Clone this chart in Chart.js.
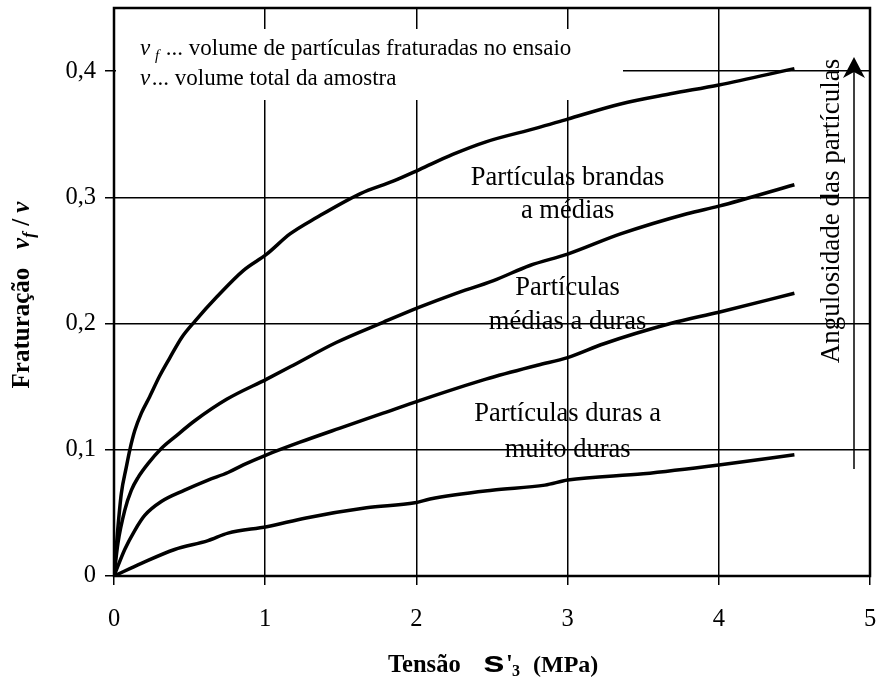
<!DOCTYPE html>
<html><head><meta charset="utf-8">
<script src="https://cdn.jsdelivr.net/npm/chart.js@4.4.0/dist/chart.umd.min.js"></script>
<style>html,body{margin:0;padding:0;background:#fff}canvas{display:block}</style>
</head><body>
<canvas id="c" width="876" height="680"></canvas>
<script>
// ---- data ----
const xTicks = [0, 1, 2, 3, 4, 5];
const yTicks = [0, 0.1, 0.2, 0.3, 0.4];

const curve1X = [0,0.022,0.048,0.081,0.104,0.137,0.181,0.236,0.30,0.37,0.448,0.536,0.679,0.855,1.01,1.164,1.34,1.63,1.85,2.02,2.24,2.46,2.80,3.0,3.35,3.68,4.0,4.5];
const curve1Y = [0,0.033,0.065,0.086,0.0996,0.115,0.129,0.142,0.158,0.173,0.189,0.202,0.221,0.242,0.255,0.271,0.284,0.303,0.313,0.322,0.334,0.344,0.355,0.362,0.374,0.382,0.389,0.402];

const curve2X = [0,0.026,0.071,0.115,0.159,0.225,0.313,0.401,0.534,0.745,1.01,1.186,1.47,1.78,2.02,2.24,2.51,2.75,3.0,3.35,3.79,4.0,4.5];
const curve2Y = [0,0.026,0.052,0.068,0.078,0.089,0.101,0.110,0.123,0.140,0.156,0.167,0.185,0.201,0.213,0.223,0.234,0.246,0.255,0.271,0.287,0.293,0.310];

const curve3X = [0,0.071,0.137,0.203,0.313,0.467,0.622,0.754,0.855,1.01,1.23,1.49,1.78,2.02,2.46,2.80,3.0,3.24,3.68,4.0,4.5];
const curve3Y = [0,0.021,0.036,0.048,0.059,0.068,0.076,0.082,0.088,0.096,0.106,0.117,0.129,0.139,0.156,0.167,0.173,0.184,0.200,0.209,0.224];

const curve4X = [0,0.181,0.401,0.622,0.754,1.01,1.27,1.67,1.99,2.09,2.5,2.85,3.0,3.5,4.0,4.5];
const curve4Y = [0,0.010,0.021,0.028,0.034,0.039,0.046,0.054,0.058,0.061,0.068,0.072,0.076,0.081,0.088,0.096];

const curveLabels = [
  ["Partículas brandas", "a médias"],
  ["Partículas", "médias a duras"],
  ["Partículas duras a", "muito duras"]
];
const legendLine1 = " ... volume de partículas fraturadas no ensaio";
const legendLine2 = " ... volume total da amostra";
const arrowText = "Angulosidade das partículas";

// label anchors (data coords)
const labelAnchorX = [3.0, 3.0, 3.0];
const labelAnchorY = [[0.315, 0.289], [0.228, 0.201], [0.128, 0.100]];

function pts(xs, ys) { return xs.map((x, i) => ({ x: x, y: ys[i] })); }

const SERIF = "'Liberation Serif', 'Times New Roman', serif";
const SANS = "'Liberation Sans', Arial, sans-serif";

const ds = (xs, ys) => ({
  data: pts(xs, ys), borderColor: '#000', borderWidth: 3.5, pointRadius: 0,
  showLine: true, fill: false, cubicInterpolationMode: 'monotone'
});

const decor = {
  id: 'decor',
  beforeDatasetsDraw(chart) {
    const ctx = chart.ctx;
    ctx.save();
    ctx.fillStyle = '#fff';
    ctx.fillRect(116, 29, 623 - 116, 100 - 29);
    ctx.restore();
  },
  afterDatasetsDraw(chart) {
    const ctx = chart.ctx, a = chart.chartArea;
    const xs = chart.scales.x, ys = chart.scales.y;
    ctx.save();
    // frame
    ctx.strokeStyle = '#000';
    ctx.lineWidth = 2.5;
    ctx.strokeRect(a.left, a.top, a.right - a.left, a.bottom - a.top);

    // legend text
    ctx.fillStyle = '#000';
    ctx.textBaseline = 'alphabetic';
    ctx.textAlign = 'left';
    ctx.font = 'italic 23px ' + SERIF;
    ctx.fillText('v', 140, 55);
    ctx.font = 'italic 15px ' + SERIF;
    ctx.fillText('f', 155, 60);
    ctx.font = '23px ' + SERIF;
    ctx.fillText(legendLine1, 160, 55);
    ctx.font = 'italic 23px ' + SERIF;
    ctx.fillText('v', 140, 85);
    ctx.font = '23px ' + SERIF;
    ctx.fillText(legendLine2, 146, 85);

    // curve labels
    ctx.textAlign = 'center';
    ctx.textBaseline = 'middle';
    ctx.font = '26.5px ' + SERIF;
    curveLabels.forEach((lines, i) => {
      lines.forEach((t, j) => {
        ctx.fillText(t, xs.getPixelForValue(labelAnchorX[i]), ys.getPixelForValue(labelAnchorY[i][j]));
      });
    });

    // arrow
    const ax = 854;
    ctx.lineWidth = 1.5;
    ctx.beginPath();
    ctx.moveTo(ax, 469);
    ctx.lineTo(ax, 66);
    ctx.stroke();
    ctx.beginPath();
    ctx.moveTo(ax, 57);
    ctx.lineTo(ax + 11, 78);
    ctx.lineTo(ax, 72);
    ctx.lineTo(ax - 11, 78);
    ctx.closePath();
    ctx.fill();

    // rotated arrow text
    ctx.save();
    ctx.translate(832, 211);
    ctx.rotate(-Math.PI / 2);
    ctx.font = '27px ' + SERIF;
    ctx.textAlign = 'center';
    ctx.textBaseline = 'middle';
    ctx.fillText(arrowText, 0, 0);
    ctx.restore();

    // y axis title
    ctx.save();
    ctx.translate(29, 295);
    ctx.rotate(-Math.PI / 2);
    ctx.textBaseline = 'alphabetic';
    ctx.textAlign = 'left';
    const parts = [
      ['bold 25px ' + SERIF, 'Fraturação', 0],
      ['bold 25px ' + SERIF, '   ', 0],
      ['bold italic 25px ' + SERIF, 'v', 0],
      ['bold italic 17px ' + SERIF, 'f', 5],
      ['bold 25px ' + SERIF, ' / ', 0],
      ['bold italic 25px ' + SERIF, 'v', 0]
    ];
    let w = 0;
    parts.forEach(p => { ctx.font = p[0]; w += ctx.measureText(p[1]).width; });
    let x0 = -w / 2;
    parts.forEach(p => { ctx.font = p[0]; ctx.fillText(p[1], x0, p[2]); x0 += ctx.measureText(p[1]).width; });
    ctx.restore();

    // x axis title
    ctx.save();
    ctx.textBaseline = 'alphabetic';
    ctx.textAlign = 'left';
    ctx.font = 'bold 24.5px ' + SERIF;
    ctx.fillText('Tensão', 388, 672);
    ctx.save();
    ctx.translate(483, 672);
    ctx.scale(1.3, 1);
    ctx.font = 'bold 30px ' + SANS;
    ctx.fillText('s', 0, 0);
    ctx.restore();
    ctx.font = 'bold 24.5px ' + SERIF;
    ctx.fillText("'", 506, 672);
    ctx.font = 'bold 16px ' + SERIF;
    ctx.fillText('3', 512, 676);
    ctx.font = 'bold 24px ' + SERIF;
    ctx.fillText('(MPa)', 533, 672);
    ctx.restore();

    ctx.restore();
  }
};

new Chart(document.getElementById('c'), {
  type: 'scatter',
  data: { datasets: [ds(curve1X, curve1Y), ds(curve2X, curve2Y), ds(curve3X, curve3Y), ds(curve4X, curve4Y)] },
  options: {
    responsive: false, animation: false, events: [],
    layout: { padding: { top: 8, right: 6, left: 0, bottom: 0 } },
    plugins: { legend: { display: false }, tooltip: { enabled: false } },
    scales: {
      x: {
        type: 'linear', min: 0, max: 5,
        afterBuildTicks: s => { s.ticks = xTicks.map(v => ({ value: v })); },
        afterFit: s => { s.height = 104; s.paddingLeft = 0; s.paddingRight = 0; },
        grid: { color: '#000', lineWidth: 1.5, tickLength: 9, drawTicks: true },
        border: { display: false },
        ticks: { color: '#000', font: { family: SERIF, size: 24.5 }, padding: 20, maxRotation: 0,
          callback: v => String(v) }
      },
      y: {
        type: 'linear', min: 0, max: 0.45,
        afterBuildTicks: s => { s.ticks = yTicks.map(v => ({ value: v })); },
        afterFit: s => { s.width = 114; s.paddingTop = 0; s.paddingBottom = 0; },
        grid: { color: '#000', lineWidth: 1.5, tickLength: 9, drawTicks: true },
        border: { display: false },
        ticks: { color: '#000', font: { family: SERIF, size: 24.5 }, padding: 9,
          callback: v => v === 0 ? '0' : v.toFixed(1).replace('.', ',') }
      }
    }
  },
  plugins: [decor]
});
</script>
</body></html>
